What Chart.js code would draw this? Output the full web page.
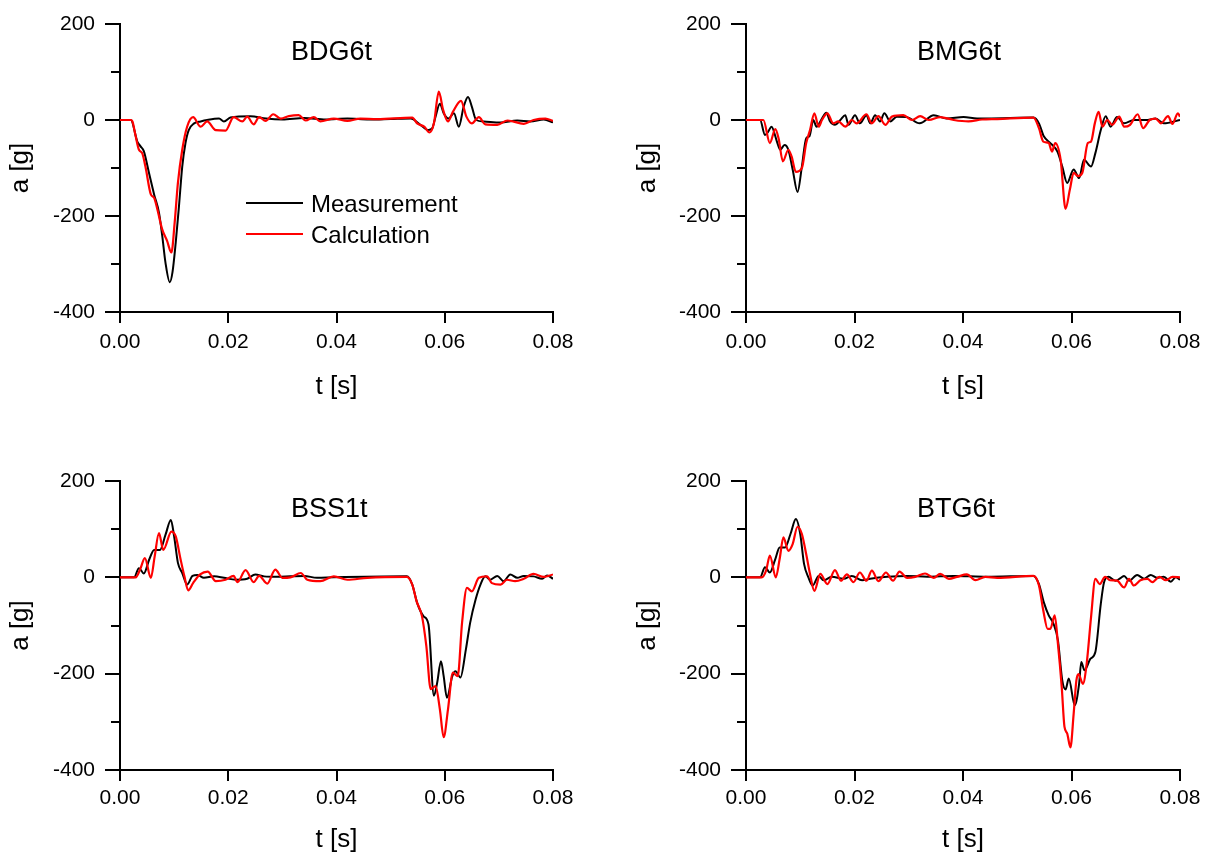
<!DOCTYPE html>
<html lang="en">
<head>
<meta charset="UTF-8" />
<title>Acceleration: measurement vs calculation</title>
<script src="https://cdn.jsdelivr.net/npm/chart.js"></script>
<style>
  body { margin: 0; background: #fff; }
  #page { position: relative; width: 1207px; height: 856px; overflow: hidden; }
  canvas { position: absolute; }
</style>
</head>
<body>
<div id="page">
  <canvas id="bdg" width="603" height="428" style="left:0;top:0"></canvas>
  <canvas id="bmg" width="603" height="428" style="left:604px;top:0"></canvas>
  <canvas id="bss" width="603" height="399" style="left:0;top:457px"></canvas>
  <canvas id="btg" width="603" height="399" style="left:604px;top:457px"></canvas>
</div>
<script>
// axis ticks
const xTicksMajor = [0, 0.02, 0.04, 0.06, 0.08];
const yTicksMajor = [-400, -200, 0, 200];
const yTicksMinor = [-300, -100, 100];

// BDG6t
const bdgMeasT = [0, 0.0020, 0.0032, 0.0038, 0.0044, 0.00535, 0.0063, 0.0072, 0.0078, 0.0084,
  0.0092, 0.0097, 0.0103, 0.0109, 0.0115, 0.0121, 0.0127, 0.0137, 0.0149, 0.0161,
  0.0183, 0.0192, 0.0204, 0.0241, 0.027, 0.030, 0.034, 0.038, 0.042, 0.046,
  0.050, 0.0537, 0.0555, 0.0570, 0.0577, 0.0583, 0.0591, 0.0598, 0.0607, 0.0617,
  0.0626, 0.0635, 0.0643, 0.0650, 0.0658, 0.0672, 0.0703, 0.0734, 0.0758, 0.0783, 0.080];
const bdgMeas = [0, 0, -45, -55, -65, -110, -155, -193, -241, -297,
  -338, -317, -255, -179, -97, -48, -21, -7, -3, 0,
  3, -3, 5, 8, 3, 1, 4, 1, 3, 1,
  2, 3, -10, -21, -17, 7, 34, 14, 3, 14,
  -14, 28, 48, 28, 0, -3, -5, -1, -3, 1, -5];
const bdgCalcT = [0, 0.0020, 0.0023, 0.0029, 0.0035, 0.0041, 0.0047, 0.0057, 0.0063, 0.0069,
  0.0078, 0.0087, 0.0095, 0.0101, 0.0107, 0.0115, 0.0124, 0.0135, 0.0149, 0.0161,
  0.0177, 0.0195, 0.0210, 0.0226, 0.0235, 0.0247, 0.0257, 0.0269, 0.0283, 0.0297,
  0.0312, 0.0330, 0.0343, 0.0358, 0.0370, 0.0395, 0.0420, 0.0444, 0.0475, 0.0540,
  0.0549, 0.0562, 0.0572, 0.0580, 0.0589, 0.0597, 0.0606, 0.0615, 0.0630, 0.0640,
  0.0650, 0.0663, 0.0675, 0.0697, 0.0716, 0.0746, 0.0764, 0.0786, 0.0800];
const bdgCalc = [0, 0, -3, -34, -62, -69, -97, -155, -162, -186,
  -228, -252, -276, -214, -131, -62, -14, 6, -14, -3,
  -21, -22, 6, -3, 7, -9, 6, -2, 12, 3,
  8, 10, -1, 6, -3, 3, -2, 3, 2, 5,
  -7, -14, -26, -7, 59, 21, -3, 17, 40, 7,
  -7, 6, -9, -10, -1, -8, 0, 3, -2];

// BMG6t
const bmgMeasT = [0, 0.0026, 0.0035, 0.0041, 0.0047, 0.0057, 0.0063, 0.0071, 0.0078, 0.0086,
  0.0095, 0.0103, 0.0111, 0.0117, 0.0124, 0.0130, 0.0140, 0.0148, 0.0155, 0.0164,
  0.0174, 0.0183, 0.0189, 0.0201, 0.0210, 0.0222, 0.0229, 0.0238, 0.0247, 0.0255,
  0.0266, 0.0278, 0.0297, 0.0320, 0.0346, 0.0370, 0.0401, 0.0426, 0.0444, 0.0530,
  0.0540, 0.0549, 0.0561, 0.0574, 0.0583, 0.0592, 0.0604, 0.0614, 0.0623, 0.0636,
  0.0644, 0.0654, 0.0663, 0.0672, 0.0684, 0.0697, 0.0715, 0.0740, 0.0755, 0.0770, 0.0800];
const bmgMeas = [0, 0, -31, -24, -14, -45, -62, -52, -62, -103,
  -150, -97, -38, -34, 0, -14, 3, 15, -3, -10,
  0, 10, -10, 10, -7, 10, -7, 10, -3, 14,
  -3, 7, 6, -7, 10, 3, 6, 3, 3, 5,
  -7, -34, -48, -66, -97, -131, -103, -121, -83, -97,
  -69, -21, 8, -14, 6, -7, 0, 0, 3, -7, 0];
const bmgCalcT = [0, 0.0032, 0.0044, 0.0054, 0.0060, 0.0068, 0.0078, 0.0084, 0.0092, 0.0103,
  0.0111, 0.0118, 0.0126, 0.0134, 0.0140, 0.0150, 0.0161, 0.0170, 0.0183, 0.0195,
  0.0204, 0.0222, 0.0232, 0.0244, 0.0257, 0.0269, 0.0290, 0.0306, 0.0321, 0.0337,
  0.0358, 0.0383, 0.0410, 0.0435, 0.0463, 0.0530, 0.0540, 0.0548, 0.0558, 0.0564,
  0.0570, 0.0580, 0.0589, 0.0597, 0.0604, 0.0612, 0.0620, 0.0630, 0.0636, 0.0643,
  0.0650, 0.0657, 0.0666, 0.0675, 0.0688, 0.0697, 0.0708, 0.0722, 0.0732, 0.0744,
  0.0755, 0.0765, 0.0778, 0.0786, 0.0796, 0.0800];
const bmgCalc = [0, 0, -48, -19, -38, -86, -62, -76, -108, -100,
  -48, -21, 14, -14, 0, 14, -7, -3, -14, 0,
  -7, 12, -7, 8, -10, 7, 10, 0, 8, 0,
  6, 0, -3, 1, 2, 5, -17, -45, -48, -66,
  -48, -83, -185, -145, -110, -117, -110, -48, -45, -7,
  17, -14, 0, -10, 7, -14, -10, 12, -17, 0,
  3, -7, 8, -8, 14, 7];

// BSS1t
const bssMeasT = [0, 0.0026, 0.0035, 0.0044, 0.0054, 0.0063, 0.0074, 0.0084, 0.0094, 0.0100,
  0.0107, 0.0115, 0.0124, 0.0134, 0.0143, 0.0155, 0.0174, 0.0192, 0.0214, 0.0235,
  0.0250, 0.0266, 0.0290, 0.0315, 0.0340, 0.0364, 0.0395, 0.0530, 0.0540, 0.0549,
  0.0561, 0.0570, 0.0580, 0.0586, 0.0593, 0.0598, 0.0604, 0.0614, 0.0620, 0.0629,
  0.0639, 0.0647, 0.0657, 0.0666, 0.0675, 0.0684, 0.0697, 0.0709, 0.0721, 0.0734,
  0.0746, 0.0764, 0.0780, 0.0789, 0.0800];
const bssMeas = [0, 0, 19, 8, 37, 57, 57, 88, 119, 85,
  30, 9, -15, 3, 5, -1, 2, -1, -5, -3,
  6, 2, 1, 2, 3, -1, 0, 2, -15, -53,
  -81, -98, -246, -219, -174, -205, -250, -205, -195, -208,
  -150, -94, -46, -15, 2, -5, 3, -8, 6, -1,
  3, 2, -3, 4, -3];
const bssCalcT = [0, 0.0029, 0.0037, 0.0046, 0.0057, 0.0064, 0.0072, 0.0080, 0.0095, 0.0103,
  0.0112, 0.0119, 0.0126, 0.0135, 0.0148, 0.0162, 0.0177, 0.0195, 0.0210, 0.0217,
  0.0232, 0.0247, 0.0257, 0.0272, 0.0287, 0.0300, 0.0315, 0.0334, 0.0346, 0.0370,
  0.0395, 0.0420, 0.0457, 0.0530, 0.0540, 0.0548, 0.0558, 0.0566, 0.0574, 0.0583,
  0.0591, 0.0598, 0.0606, 0.0615, 0.0624, 0.0632, 0.0641, 0.0650, 0.0663, 0.0678,
  0.0687, 0.0703, 0.0715, 0.0730, 0.0746, 0.0764, 0.0783, 0.0800];
const bssCalc = [0, 0, 16, 40, -1, 43, 92, 57, 95, 85,
  37, 2, -27, -12, 6, 12, -8, -5, 3, -10,
  15, -10, 3, -13, 16, -1, 0, 9, -5, -8,
  2, -5, -1, 1, -15, -50, -81, -143, -232, -226,
  -274, -332, -274, -198, -205, -94, -22, -29, -1, 2,
  -12, -15, -5, -8, -3, 7, 1, 6];

// BTG6t
const btgMeasT = [0, 0.0026, 0.0035, 0.0044, 0.0054, 0.0062, 0.0072, 0.0082, 0.0092, 0.0100,
  0.0107, 0.0115, 0.0123, 0.0134, 0.0143, 0.0158, 0.0180, 0.0195, 0.0214, 0.0229,
  0.0260, 0.0297, 0.0334, 0.0383, 0.0444, 0.0530, 0.0540, 0.0549, 0.0558, 0.0567,
  0.0575, 0.0583, 0.0589, 0.0595, 0.0606, 0.0614, 0.0618, 0.0624, 0.0635, 0.0644,
  0.0654, 0.0660, 0.0668, 0.0681, 0.0691, 0.0697, 0.0706, 0.0721, 0.0734, 0.0746,
  0.0758, 0.0770, 0.0783, 0.0792, 0.0800];
const btgMeas = [0, 0, 21, 10, 38, 62, 62, 90, 121, 90,
  28, 0, -17, 3, -6, 1, -3, 3, -6, -3,
  1, 3, 1, 3, 1, 3, -14, -52, -79, -97,
  -131, -214, -233, -210, -266, -221, -176, -193, -169, -155,
  -55, -10, 1, -7, -1, 3, -7, 5, -3, 5,
  -1, 1, -9, 0, -5];
const btgCalcT = [0, 0.0029, 0.0037, 0.0044, 0.0055, 0.0062, 0.0069, 0.0078, 0.0086, 0.0095,
  0.0103, 0.0111, 0.0118, 0.0126, 0.0137, 0.0150, 0.0164, 0.0175, 0.0186, 0.0198,
  0.0210, 0.0222, 0.0232, 0.0244, 0.0258, 0.0271, 0.0283, 0.0297, 0.0312, 0.0330,
  0.0346, 0.0358, 0.0374, 0.0389, 0.0407, 0.0423, 0.0441, 0.0463, 0.0530, 0.0540,
  0.0548, 0.0556, 0.0561, 0.0569, 0.0575, 0.0582, 0.0587, 0.0592, 0.0598, 0.0604,
  0.0609, 0.0613, 0.0621, 0.0628, 0.0636, 0.0644, 0.0652, 0.0662, 0.0671, 0.0684,
  0.0697, 0.0706, 0.0715, 0.0727, 0.0740, 0.0749, 0.0762, 0.0774, 0.0786, 0.0800];
const btgCalc = [0, 0, 14, 45, 0, 38, 83, 55, 69, 105,
  90, 48, 7, -28, 7, -14, 15, -7, 6, -10,
  10, -7, 14, -8, 10, -7, 12, -1, 1, 8,
  -1, 7, -3, 1, 6, -6, 1, -1, 3, -17,
  -69, -107, -107, -79, -138, -228, -310, -324, -353, -283,
  -214, -201, -221, -179, -83, -3, -14, 1, -6, -7,
  -21, -3, -17, -6, -3, -10, 1, -6, 1, 0];

const FONT = '"Liberation Sans", Arial, sans-serif';

// ticks, panel name and the small legend are drawn here
const panelPlugin = {
  id: 'panel',
  afterDraw(chart, args, opts) {
    const { ctx, chartArea: a, scales: { x, y } } = chart;
    ctx.save();
    ctx.strokeStyle = '#000';
    ctx.lineWidth = 2;
    ctx.beginPath();
    yTicksMajor.forEach(v => {
      const p = Math.round(y.getPixelForValue(v));
      ctx.moveTo(a.left - 15, p); ctx.lineTo(a.left, p);
    });
    yTicksMinor.forEach(v => {
      const p = Math.round(y.getPixelForValue(v));
      ctx.moveTo(a.left - 9, p); ctx.lineTo(a.left, p);
    });
    xTicksMajor.forEach(v => {
      const p = Math.round(x.getPixelForValue(v));
      ctx.moveTo(p, a.bottom); ctx.lineTo(p, a.bottom + 11);
    });
    ctx.stroke();

    ctx.fillStyle = '#000';
    ctx.font = '27px ' + FONT;
    ctx.textAlign = 'left';
    ctx.textBaseline = 'alphabetic';
    ctx.fillText(opts.title, a.left + 171, a.top + 36);

    if (opts.legend) {
      ctx.font = '24px ' + FONT;
      chart.data.datasets.forEach((ds, i) => {
        const ly = a.top + 179 + i * 31;
        ctx.strokeStyle = ds.borderColor;
        ctx.lineWidth = ds.borderWidth;
        ctx.beginPath();
        ctx.moveTo(a.left + 126, ly); ctx.lineTo(a.left + 183, ly);
        ctx.stroke();
        ctx.fillText(ds.label, a.left + 191, ly + 8.5);
      });
    }
    ctx.restore();
  }
};

function points(ts, vs) {
  return ts.map((t, i) => ({ x: t, y: vs[i] }));
}

function makePanel(id, name, measT, meas, calcT, calc, cfg) {
  const tickFont = { family: FONT, size: 21 };
  const titleFont = { family: FONT, size: 26 };
  return new Chart(document.getElementById(id), {
    type: 'line',
    data: {
      datasets: [
        { label: 'Measurement', data: points(measT, meas), borderColor: '#000000', borderWidth: 2, order: 1 },
        { label: 'Calculation', data: points(calcT, calc), borderColor: '#ff0000', borderWidth: 2.2, order: 0 }
      ]
    },
    options: {
      responsive: false,
      animation: false,
      devicePixelRatio: 1,
      layout: { padding: { left: 0, top: 24, right: cfg.right, bottom: 0 } },
      elements: {
        point: { radius: 0 },
        line: { cubicInterpolationMode: 'monotone', fill: false }
      },
      plugins: {
        legend: { display: false },
        tooltip: { enabled: false },
        panel: { title: name, legend: cfg.legend }
      },
      scales: {
        x: {
          type: 'linear', min: 0, max: 0.08,
          ticks: { stepSize: 0.02, callback: v => v.toFixed(2), padding: cfg.xTickPad, color: '#000', font: tickFont, maxRotation: 0 },
          grid: { drawOnChartArea: false, drawTicks: false },
          border: { color: '#000', width: 2 },
          title: { display: true, text: 't [s]', color: '#000', font: titleFont, padding: { top: 0, bottom: cfg.xTitlePad } },
          afterFit: s => { s.height = cfg.xHeight; s.paddingLeft = 0; s.paddingRight = 0; }
        },
        y: {
          min: -400, max: 200,
          ticks: { stepSize: 200, padding: 25, color: '#000', font: tickFont },
          grid: { drawOnChartArea: false, drawTicks: false },
          border: { color: '#000', width: 2 },
          title: { display: true, text: 'a [g]', color: '#000', font: titleFont, padding: { top: cfg.yTitlePad, bottom: 0 } },
          afterFit: s => { s.width = cfg.yWidth; s.paddingTop = 0; s.paddingBottom = 0; }
        }
      }
    },
    plugins: [panelPlugin]
  });
}

makePanel('bdg', 'BDG6t', bdgMeasT, bdgMeas, bdgCalcT, bdgCalc,
  { right: 50, yWidth: 120, xHeight: 116, xTickPad: 18, xTitlePad: 26, yTitlePad: 5, legend: true });
makePanel('bmg', 'BMG6t', bmgMeasT, bmgMeas, bmgCalcT, bmgCalc,
  { right: 27, yWidth: 142, xHeight: 116, xTickPad: 18, xTitlePad: 26, yTitlePad: 28, legend: false });
makePanel('bss', 'BSS1t', bssMeasT, bssMeas, bssCalcT, bssCalc,
  { right: 50, yWidth: 120, xHeight: 86, xTickPad: 16, xTitlePad: 1, yTitlePad: 5, legend: false });
makePanel('btg', 'BTG6t', btgMeasT, btgMeas, btgCalcT, btgCalc,
  { right: 27, yWidth: 142, xHeight: 86, xTickPad: 16, xTitlePad: 1, yTitlePad: 28, legend: false });
</script>
</body>
</html>
